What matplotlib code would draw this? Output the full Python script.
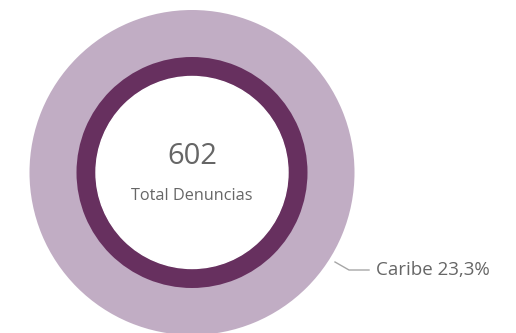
import matplotlib.pyplot as plt
import numpy as np

# denuncias por región
regiones = ["Caribe"]
denuncias_region = [140]
total_denuncias = 602
titulo_centro = "Total Denuncias"

color_region = "#C1ADC4"
color_total = "#67305F"
color_texto = "#666666"

fig = plt.figure(figsize=(5.16, 3.33), dpi=100)
ax = fig.add_axes([0, 0, 1, 1])

cx, cy = 192, 172.5

# disco exterior: denuncias de la región
ax.pie(denuncias_region, radius=162.5, center=(cx, cy), colors=[color_region],
       startangle=90, counterclock=False)
# anillo interior: total
ax.pie([total_denuncias], radius=115.5, center=(cx, cy), colors=[color_total],
       wedgeprops=dict(width=19.5, edgecolor="none"), startangle=90)
ax.add_patch(plt.Circle((cx, cy), 96, color="white", zorder=3))

ax.set_xlim(0, 516)
ax.set_ylim(333, 0)
ax.set_aspect("equal")
ax.axis("off")

ax.text(cx, 157, f"{total_denuncias}", ha="center", va="center", fontsize=21,
        color=color_texto, family="Open Sans", zorder=4)
ax.text(cx, 196, titulo_centro, ha="center", va="center", fontsize=11.7,
        color=color_texto, family="Open Sans", zorder=4)

# etiqueta con línea guía
pct = denuncias_region[0] / total_denuncias * 100
etiqueta = f"{regiones[0]} {pct:.1f}%".replace(".", ",")
ax.plot([335, 349, 369], [262, 270, 270], color="#A6A6A6", lw=1)
ax.text(376, 270, etiqueta, ha="left", va="center", fontsize=13.5,
        color=color_texto, family="Open Sans")

fig.savefig("out.png", dpi=100)
